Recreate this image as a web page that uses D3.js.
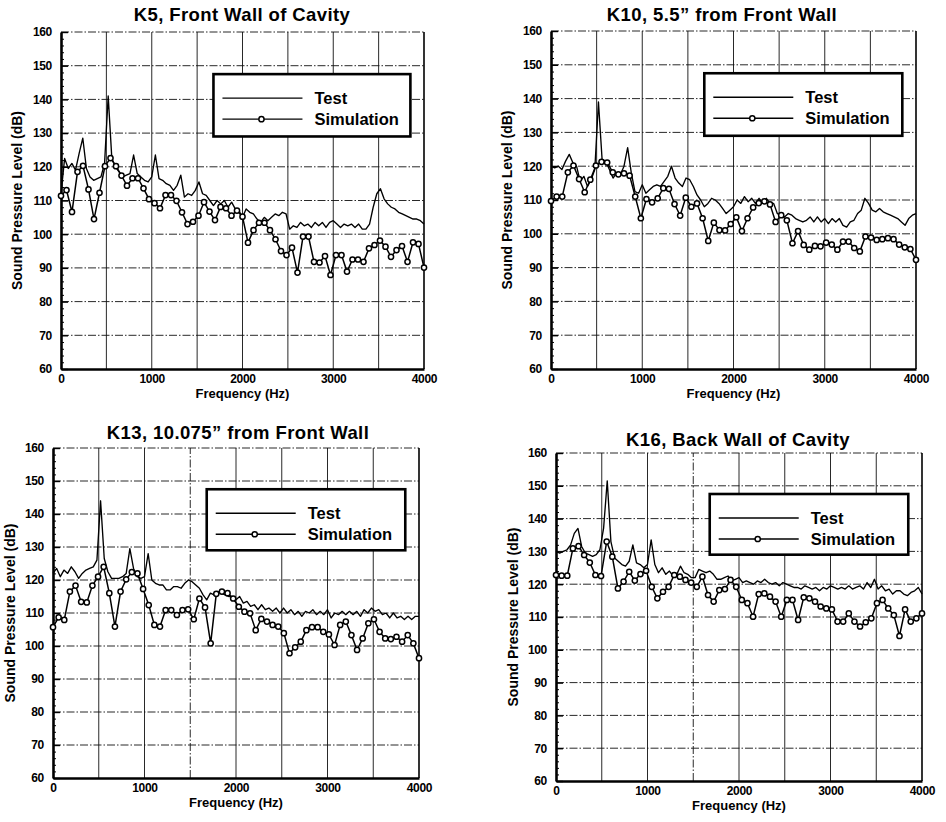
<!DOCTYPE html>
<html>
<head>
<meta charset="utf-8">
<script src="https://cdn.jsdelivr.net/npm/d3@7"></script>
<style>
  body { margin: 0; background: #fff; }
  text { font-family: "Liberation Sans", Arial, sans-serif; font-weight: bold; fill: #000; }
</style>
</head>
<body>
<script>
// ---- data ----
var titles = ["K5, Front Wall of Cavity", "K10, 5.5\u201D from Front Wall",
              "K13, 10.075\u201D from Front Wall", "K16, Back Wall of Cavity"];
var yTicks = [60, 70, 80, 90, 100, 110, 120, 130, 140, 150, 160];
var xTicks = [0, 1000, 2000, 3000, 4000];
var xGrid = [500, 1000, 1500, 2000, 2500, 3000, 3500];
var seriesNames = ["Test", "Simulation"];
var testStep = 40; // Hz between test samples

var k5Test = [112, 122.5, 119.5, 121, 119, 124, 128.5, 119.5, 117, 116,
  116.5, 117, 121, 141, 122.5, 120, 118.5, 117, 117.5, 118,
  123.5, 118, 117, 116, 115.5, 117, 123.5, 116.5, 116, 115,
  114.5, 113, 114.5, 117.5, 111, 112, 111.5, 113, 115.5, 112,
  111.5, 110, 108.5, 110, 109, 110, 108, 109.5, 107.5, 107,
  105, 107.5, 106.5, 106, 104.5, 103.5, 105, 104, 105, 106,
  105.5, 106.5, 106, 101.5, 102.5, 102, 103.5, 102.5, 103, 102,
  103.5, 102.5, 103.5, 102, 103.5, 104, 103, 102, 103, 102.5,
  103, 102, 103, 101.5, 101.5, 103, 108, 112, 113.5, 110.5,
  109, 108, 107.5, 106.5, 106, 105.5, 105, 104.5, 104.5, 104,
  103];
var k5Sim = [111.4, 113.1, 106.6, 118.5, 120.3, 113.3, 104.5, 112.3, 120.2, 122.6,
  120.2, 117.4, 114.4, 116.6, 116.6, 113.6, 110.4, 109.2, 107.7, 111.6,
  111.6, 109.9, 106.5, 103.0, 103.7, 105.5, 109.5, 106.7, 104.2, 108.1,
  107.7, 105.5, 107, 105.2, 97.5, 101.2, 103.4, 103.4, 101.2, 98.5,
  95, 93.8, 96, 88.6, 99.3, 99.3, 91.8, 91.6, 93.5, 87.9,
  93.8, 93.8, 88.9, 92.5, 92.5, 91.8, 95.8, 96.8, 98.1, 96.3,
  93.3, 95.3, 96.5, 91.8, 97.6, 97.1, 90.1];

var k10Test = [120, 119.5, 120, 119, 121.5, 123.5, 121, 120, 115.5, 117,
  114, 116, 119, 139, 122, 121.5, 119, 116.5, 118, 117.5,
  120, 125.5, 118, 112.5, 112, 114.5, 112, 113, 114, 114.5,
  114, 115.5, 117, 120, 116.5, 115, 114, 116.5, 116, 114,
  111.5, 110, 108, 109, 110.5, 110, 109, 107.5, 106, 107,
  108, 110, 109, 111, 109.5, 110.5, 109, 110.5, 109, 110.5,
  109, 109, 106, 105.5, 105, 106, 105.5, 104.5, 104, 103.5,
  104, 105, 103.5, 105, 103.5, 104.5, 103, 104.5, 103.5, 104.5,
  102.5, 102, 103.5, 104, 106, 107, 110.5, 109, 107, 106.5,
  107.5, 106.5, 106, 105.5, 105, 104.5, 103.5, 102.5, 104.5, 105.5,
  106];
var k10Sim = [109.7, 111, 111, 118.2, 120.2, 116.2, 112.3, 116, 120.2, 121.3,
  121.1, 118.2, 117.6, 117.9, 117.2, 111, 104.6, 110.3, 109.3, 110.5,
  113.5, 113.3, 108.8, 105.4, 110.7, 108, 109, 104.6, 97.9, 103.3,
  101.1, 101.0, 102.9, 104.9, 100.8, 104.6, 107.8, 109.1, 109.6, 108.7,
  103.5, 105.5, 104.0, 97.2, 100.8, 96.7, 95.3, 96.4, 96.3, 97.4,
  96.8, 95.3, 97.7, 97.7, 95.8, 94.8, 99.2, 98.9, 98.2, 98.4,
  98.7, 98.4, 96.8, 96.0, 95.5, 92.3];

var k13Test = [122, 123.5, 121, 123, 122, 124, 122.5, 120.5, 122, 123,
  123.5, 124, 126, 144, 126.5, 122.5, 120.5, 120.5, 120.5, 121,
  122, 129.5, 123.5, 121, 120.5, 121, 128, 120, 119, 118.5,
  118.5, 117, 117, 118, 118, 117.5, 119, 120, 119.5, 118.5,
  117.5, 115.5, 114, 116, 115.5, 116.5, 116, 115.5, 115, 115,
  114, 115, 113, 113.5, 112, 112.5, 111, 112.5, 111, 111.5,
  110.5, 111.5, 110, 111.5, 110, 111, 109.5, 110.5, 109, 110.5,
  110, 111, 109.5, 110.5, 109.5, 111, 108.5, 110, 109.5, 110.5,
  109.5, 110.5, 109.5, 110.5, 109, 111, 110, 111.5, 110.5, 111,
  109.5, 110, 108.5, 110, 108.5, 109, 108, 109, 108, 109,
  109];
var k13Sim = [105.7, 108.7, 107.9, 116.5, 118.3, 113.4, 113.2, 118.3, 121, 124,
  116, 105.9, 116.5, 120.2, 122.4, 122, 117.3, 112.4, 106.4, 105.9,
  110.9, 110.9, 109.4, 110.9, 111.1, 108.1, 114.4, 111.7, 100.8, 115.8,
  116.5, 116, 114.4, 111.9, 110.4, 109.9, 104.8, 108.2, 107.4, 106.4,
  105.9, 103.9, 97.8, 99.6, 101.3, 104.8, 105.7, 105.7, 104.3, 103.5,
  100.3, 106.4, 107.4, 103.3, 98.8, 102.3, 106.9, 108.1, 104.3, 102.3,
  102.1, 102.8, 101.3, 103.3, 100.8, 96.3];

var k16Test = [130, 129.5, 130, 130.5, 132, 135.5, 137, 131.5, 129.5, 129,
  128.5, 129, 130.5, 137, 151.5, 133, 128, 127, 126, 125.5,
  127, 132, 126.5, 126, 125, 126, 133.5, 126, 123.5, 125,
  123, 124, 122.5, 123, 125.5, 123.5, 123, 122, 122, 124.5,
  124, 123.5, 124, 123, 121.5, 121.5, 122, 122.5, 121, 121.5,
  122, 120.5, 121, 120.5, 120, 121, 120.5, 121.5, 120.5, 120,
  120.5, 119.5, 120.5, 120, 119.5, 119, 119, 118.5, 119.5, 119,
  118.5, 119, 118, 119, 118.5, 119.5, 119, 118.5, 119, 118.5,
  119.5, 118.5, 119, 119.5, 118.5, 120.5, 119, 121.5, 118.5, 119.5,
  118, 118.5, 117, 118, 118, 117, 116.5, 117.5, 118, 119,
  117];
var k16Sim = [122.8, 122.6, 122.6, 130.9, 131.6, 128.9, 126.6, 122.8, 122.5, 133,
  128.4, 118.7, 120.8, 123.8, 121.1, 123.1, 124.1, 119.2, 115.7, 117.7,
  119.2, 122.8, 122.3, 121.3, 120.5, 119.2, 122.3, 116.7, 114.7, 118.2,
  118.5, 121.3, 119.2, 115.2, 114.2, 110.1, 117, 117.2, 116.2, 114.7,
  110.1, 115.2, 115.2, 109.1, 116, 115.7, 114.7, 113.2, 112.6, 112.3,
  108.6, 108.6, 111.1, 108.6, 107.1, 108.4, 109.6, 114.2, 115.2, 112.6,
  110.6, 104.2, 112.3, 108.6, 109.6, 111.1];

// ---- layout ----
var panels = [
  { title: titles[0], test: k5Test, sim: k5Sim, left: 61, right: 424, top: 32, bottom: 369, titleX: 242, titleY: 21, yLabelX: 17, dashedX: [] },
  { title: titles[1], test: k10Test, sim: k10Sim, left: 551, right: 916, top: 31, bottom: 369, titleX: 722, titleY: 21, yLabelX: 507, dashedX: [] },
  { title: titles[2], test: k13Test, sim: k13Sim, left: 53, right: 419, top: 448, bottom: 778, titleX: 238, titleY: 439, yLabelX: 10, dashedX: [1500] },
  { title: titles[3], test: k16Test, sim: k16Sim, left: 556, right: 922, top: 453, bottom: 781, titleX: 738, titleY: 446, yLabelX: 513, dashedX: [1500] }
];

var svg = d3.select("body").append("svg")
            .attr("width", 946)
            .attr("height", 822);

var yMinor = d3.range(62, 160, 2).filter(function (d) { return d % 10 !== 0; });

function drawPanel(p) {
  var x = d3.scaleLinear().domain([0, 4000]).range([p.left, p.right]);
  var y = d3.scaleLinear().domain([60, 160]).range([p.bottom, p.top]);
  var g = svg.append("g");

  // grid
  g.selectAll(".vgrid").data(xGrid).enter().append("line")
    .attr("x1", function (d) { return x(d); })
    .attr("x2", function (d) { return x(d); })
    .attr("y1", p.bottom).attr("y2", p.top)
    .style("stroke", "#111").style("stroke-width", 0.9)
    .style("stroke-dasharray", function (d) { return p.dashedX.indexOf(d) >= 0 ? "8,2,1.5,2" : null; });

  g.selectAll(".hgrid").data(yTicks.slice(1)).enter().append("line")
    .attr("x1", p.left).attr("x2", p.right)
    .attr("y1", function (d) { return y(d); })
    .attr("y2", function (d) { return y(d); })
    .style("stroke", "#111").style("stroke-width", 0.9)
    .style("stroke-dasharray", "8,2,1.5,2");

  // right frame
  g.append("line")
    .attr("x1", p.right).attr("x2", p.right)
    .attr("y1", p.top).attr("y2", p.bottom)
    .style("stroke", "#000").style("stroke-width", 1.6);

  // axes
  var yMinorAxis = d3.axisLeft(y).tickValues(yMinor).tickSize(-3).tickSizeOuter(0).tickFormat("");
  g.append("g").attr("transform", "translate(" + p.left + ",0)").call(yMinorAxis)
    .select(".domain").remove();

  var yAxis = d3.axisLeft(y).tickValues(yTicks).tickSize(-7).tickSizeOuter(0)
                .tickPadding(9).tickFormat(d3.format("d"));
  var ya = g.append("g").attr("transform", "translate(" + p.left + ",0)").call(yAxis);

  var xAxis = d3.axisBottom(x).tickValues(xTicks).tickSize(0).tickSizeOuter(0)
                .tickPadding(5).tickFormat(d3.format("d"));
  var xa = g.append("g").attr("transform", "translate(0," + p.bottom + ")").call(xAxis);

  [ya, xa].forEach(function (a) {
    a.attr("font-family", null).attr("font-size", null);
    a.select(".domain").style("stroke-width", 2.6);
    a.selectAll(".tick line").style("stroke-width", 1.4);
    a.selectAll("text").style("font-size", "12px").style("letter-spacing", "-0.3px");
  });

  // series
  var testLine = d3.line()
    .x(function (d, i) { return x(i * testStep); })
    .y(function (d) { return y(d); });
  var simStep = 4000 / (p.sim.length - 1);
  var simLine = d3.line()
    .x(function (d, i) { return x(i * simStep); })
    .y(function (d) { return y(d); });

  g.append("path").datum(p.test).attr("d", testLine)
    .style("fill", "none").style("stroke", "#000").style("stroke-width", 1.35)
    .style("stroke-linejoin", "round");

  g.append("path").datum(p.sim).attr("d", simLine)
    .style("fill", "none").style("stroke", "#000").style("stroke-width", 1.5);

  g.selectAll(".simpt").data(p.sim).enter().append("circle")
    .attr("cx", function (d, i) { return x(i * simStep); })
    .attr("cy", function (d) { return y(d); })
    .attr("r", 2.6)
    .style("fill", "#fff").style("stroke", "#000").style("stroke-width", 1.5);

  // texts
  g.append("text").attr("x", p.titleX).attr("y", p.titleY)
    .attr("text-anchor", "middle").style("font-size", "18.5px").style("letter-spacing", "0.4px")
    .text(p.title);

  g.append("text").attr("x", (p.left + p.right) / 2).attr("y", p.bottom + 29)
    .attr("text-anchor", "middle").style("font-size", "13px")
    .text("Frequency (Hz)");

  g.append("text")
    .attr("transform", "translate(" + (p.yLabelX + 5) + "," + ((p.top + p.bottom) / 2) + ") rotate(-90)")
    .attr("text-anchor", "middle").style("font-size", "14px")
    .text("Sound Pressure Level (dB)");

  // legend
  var lx = x(1680), lw = x(3850) - x(1680);
  var ly = y(147.5), lh = y(129) - y(147.5);
  var lg = g.append("g");
  lg.append("rect").attr("x", lx).attr("y", ly).attr("width", lw).attr("height", lh)
    .style("fill", "#fff").style("stroke", "#000").style("stroke-width", 2.6);
  lg.selectAll(".key").data(seriesNames).enter().append("line")
    .attr("x1", lx + 9).attr("x2", lx + 89)
    .attr("y1", function (d, i) { return ly + 24 + i * 21; })
    .attr("y2", function (d, i) { return ly + 24 + i * 21; })
    .style("stroke", "#000").style("stroke-width", 1.3);
  lg.append("circle").attr("cx", lx + 48).attr("cy", ly + 45).attr("r", 2.6)
    .style("fill", "#fff").style("stroke", "#000").style("stroke-width", 1.5);
  lg.selectAll(".lab").data(seriesNames).enter().append("text")
    .attr("x", lx + 101)
    .attr("y", function (d, i) { return ly + 30 + i * 21; })
    .style("font-size", "16.5px")
    .text(function (d) { return d; });
}

panels.forEach(drawPanel);
</script>
</body>
</html>
